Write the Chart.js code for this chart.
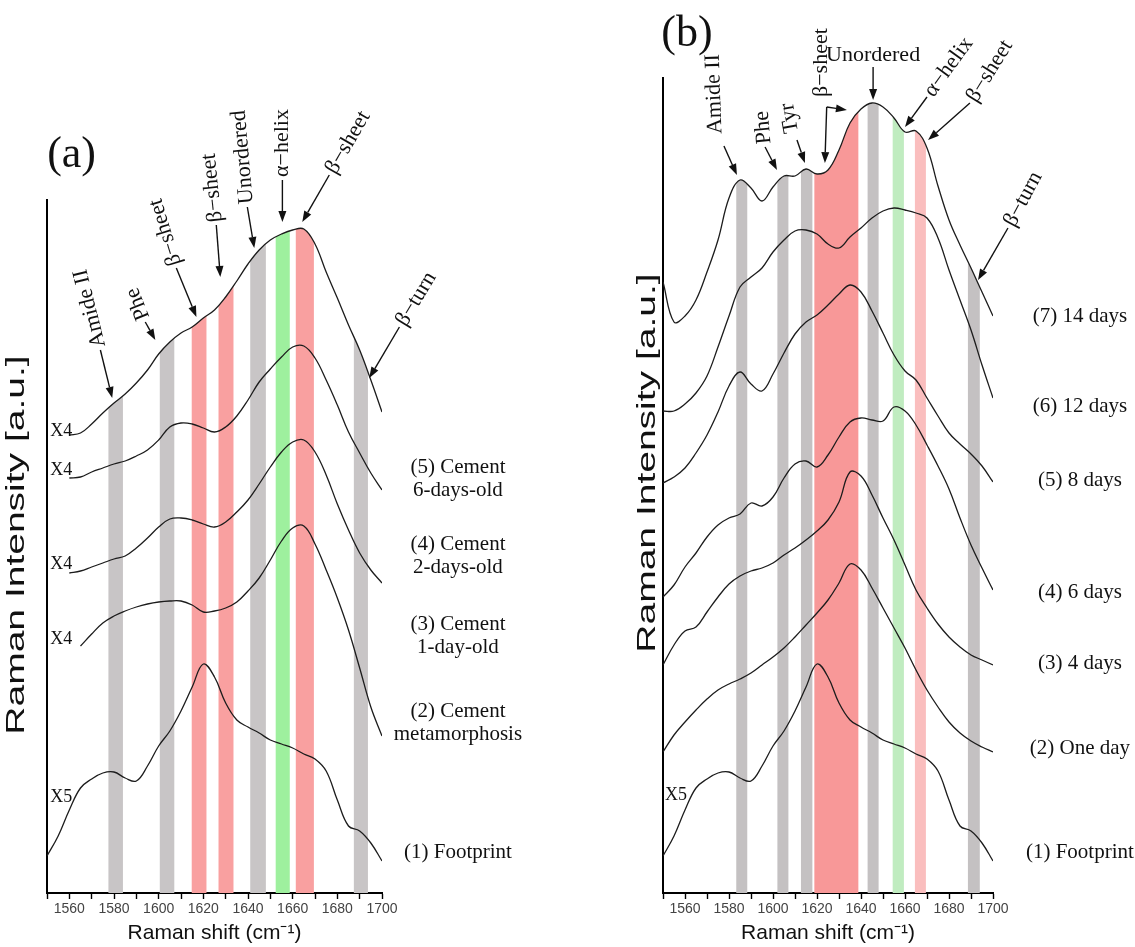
<!DOCTYPE html>
<html>
<head>
<meta charset="utf-8">
<title>Raman spectra of cement and footprint</title>
<script src="https://cdn.jsdelivr.net/npm/chart.js@4.4.1/dist/chart.umd.min.js"></script>
<style>
  html, body { margin: 0; padding: 0; background: #fff; }
  .panel { position: absolute; top: 0; }
  #panelA { left: 0; }
  #panelB { left: 600px; }
</style>
</head>
<body>
<canvas id="panelA" class="panel" width="600" height="947"></canvas>
<canvas id="panelB" class="panel" width="535" height="947"></canvas>
<script>
// Raman shift grid (cm-1)
const shift = [1550, 1555, 1560, 1565, 1570, 1575, 1580, 1585, 1590, 1595, 1600, 1605, 1610, 1615, 1620, 1625,
  1630, 1635, 1640, 1645, 1650, 1655, 1660, 1665, 1670, 1675, 1680, 1685, 1690, 1695, 1700];

// intensities (a.u., stacked offsets as drawn)
const footprint = [37, 57, 83, 105, 114, 120, 121, 115, 112, 127, 147, 162, 182, 206, 229, 216,
  190, 173, 166, 160, 153, 149, 145, 139, 134, 122, 93, 67, 62, 50, 32];

// panel (a)
const cementMetamorphosis = [null, null, null, 247, 259, 270, 277, 282, 286, 289, 291, 292, 292, 288, 281, 282,
  285, 291, 302, 315, 333, 352, 365, 367, 349, 323, 295, 263, 225, 186, 157];
const cement1Day = [null, null, 320, 322, 326, 330, 334, 337, 345, 355, 366, 374, 375, 373, 369, 366,
  371, 381, 393, 409, 426, 441, 451, 453, 441, 418, 389, 363, 340, 323, 310];
const cement2Days = [null, null, 415, 416, 421, 425, 429, 432, 437, 443, 453, 466, 470, 469, 465, 461,
  466, 477, 493, 511, 524, 536, 546, 547, 535, 513, 488, 461, 440, 420, 403];
const cement6Days = [null, null, 458, 460, 469, 480, 490, 499, 510, 523, 539, 551, 560, 566, 575, 583,
  596, 612, 629, 643, 653, 659, 663, 664, 649, 621, 595, 568, 543, 513, 481];

// panel (b)
const oneDay = [141, 158, 171, 183, 194, 203, 209, 214, 220, 228, 236, 245, 256, 268, 280, 293,
  310, 329, 323, 305, 285, 265, 245, 223, 203, 186, 171, 160, 152, 146, 141];
const days4 = [228, 248, 262, 266, 281, 296, 309, 317, 322, 325, 330, 338, 345, 353, 362, 373,
  391, 421, 417, 398, 375, 353, 328, 303, 285, 269, 256, 246, 238, 233, 228];
const days6 = [296, 308, 326, 340, 356, 368, 375, 379, 390, 387, 396, 415, 429, 432, 426, 438,
  456, 471, 475, 473, 472, 486, 482, 468, 448, 427, 404, 375, 348, 325, 303];
const days8 = [410, 416, 425, 440, 458, 481, 507, 521, 509, 502, 519, 540, 559, 571, 578, 588,
  599, 608, 601, 582, 560, 538, 522, 513, 495, 477, 460, 449, 439, 427, 411];
const days12 = [482, 482, 489, 500, 517, 546, 577, 606, 616, 625, 641, 653, 662, 663, 659, 649,
  645, 656, 665, 675, 682, 685, 683, 680, 675, 655, 623, 593, 563, 528, 495];
const days14 = [611, 571, 577, 593, 621, 653, 695, 713, 705, 692, 706, 717, 717, 724, 719, 723,
  743, 770, 784, 790, 786, 775, 761, 762, 745, 707, 673, 648, 625, 601, 577];

// band assignments (cm-1)
const bandRangesA = [[1577.5, 1584], [1600.5, 1607], [1614.8, 1621.4], [1626.8, 1633.5], [1641, 1648],
  [1652.4, 1658.7], [1661.4, 1669.5], [1687.4, 1693.7]];
const bandKindsA = ['other', 'other', 'sheet', 'sheet', 'other', 'helix', 'sheet', 'other'];
const bandRangesB = [[1583.3, 1588.3], [1602, 1607], [1612.7, 1617.9], [1618.8, 1638.8], [1643, 1648],
  [1654.4, 1659.5], [1664.5, 1669.5], [1688.6, 1694]];
const bandKindsB = ['other', 'other', 'other', 'sheet', 'other', 'helix', 'sheetLight', 'other'];

const SERIF = "'Liberation Serif', 'Times New Roman', serif";
const SANS = "'Liberation Sans', Arial, sans-serif";

const bandColorsA = { other: 'rgb(200,197,198)', sheet: 'rgb(249,160,160)', helix: 'rgb(158,240,158)' };
const bandColorsB = { other: 'rgb(196,193,194)', sheet: 'rgb(248,152,152)', sheetLight: 'rgb(250,190,190)', helix: 'rgb(192,236,192)' };

const toPoints = (values) => shift.map((s, i) => ({ x: s, y: values[i] })).filter((p) => p.y !== null);

const spectrum = (label, values) => ({
  label,
  data: toPoints(values),
  borderColor: '#1c1c1c',
  borderWidth: 1.3,
  pointRadius: 0,
  tension: 0.4,
  fill: false,
});

const drawArrow = (ctx, x0, y0, x1, y1) => {
  const ang = Math.atan2(y1 - y0, x1 - x0);
  const len = 11;
  const half = 4;
  const bx = x1 - len * Math.cos(ang);
  const by = y1 - len * Math.sin(ang);
  ctx.beginPath();
  ctx.moveTo(x0, y0);
  ctx.lineTo(bx, by);
  ctx.stroke();
  ctx.beginPath();
  ctx.moveTo(x1, y1);
  ctx.lineTo(bx + half * Math.sin(ang), by - half * Math.cos(ang));
  ctx.lineTo(bx - half * Math.sin(ang), by + half * Math.cos(ang));
  ctx.closePath();
  ctx.fill();
};

// coloured bands, clipped under the top spectrum
const bandsPlugin = (cfg) => ({
  id: 'bands',
  beforeDatasetsDraw(chart) {
    const { ctx, chartArea, scales: { x } } = chart;
    const meta = chart.getDatasetMeta(cfg.envelope);
    const pts = meta.data;
    if (!pts.length) return;
    ctx.save();
    ctx.beginPath();
    const line = meta.dataset;
    if (line && typeof line.path === 'function') {
      if (typeof line.updateControlPoints === 'function') line.updateControlPoints(chartArea, 'x');
      line.path(ctx);
    } else {
      pts.forEach((p, i) => (i ? ctx.lineTo(p.x, p.y) : ctx.moveTo(p.x, p.y)));
    }
    ctx.lineTo(pts[pts.length - 1].x, chartArea.bottom);
    ctx.lineTo(pts[0].x, chartArea.bottom);
    ctx.closePath();
    ctx.clip();
    cfg.ranges.forEach(([from, to], i) => {
      const x0 = x.getPixelForValue(from);
      const x1 = x.getPixelForValue(to);
      ctx.fillStyle = cfg.colors[cfg.kinds[i]];
      ctx.fillRect(x0, 0, x1 - x0, chartArea.bottom);
    });
    ctx.restore();
  },
});

// arrows, band names, curve labels, y title
const notesPlugin = (cfg) => ({
  id: 'notes',
  afterDatasetsDraw(chart) {
    const { ctx, scales: { x, y } } = chart;
    const px = (p) => [x.getPixelForValue(p[0]), y.getPixelForValue(p[1])];
    ctx.save();
    ctx.fillStyle = '#111';
    ctx.strokeStyle = '#111';
    ctx.lineWidth = 1.4;

    cfg.arrows.forEach((n) => {
      const [tx, ty] = px(n.tail);
      n.heads.forEach((h) => {
        const [hx, hy] = px(h);
        drawArrow(ctx, tx, ty, hx, hy);
      });
      const [lx, ly] = px(n.at || n.tail);
      ctx.save();
      ctx.translate(lx, ly);
      ctx.rotate(((n.angle || 0) * Math.PI) / 180);
      ctx.font = `22px ${SERIF}`;
      ctx.textAlign = n.angle ? 'left' : 'center';
      ctx.textBaseline = 'middle';
      ctx.fillText(n.label, n.angle ? 3 : 0, 0);
      ctx.restore();
    });

    cfg.labels.forEach((l) => {
      const [lx, ly] = px(l.at);
      const lines = [].concat(l.text);
      ctx.font = `${l.size || 21}px ${SERIF}`;
      ctx.textAlign = 'center';
      ctx.textBaseline = 'middle';
      lines.forEach((t, i) => ctx.fillText(t, lx, ly + (i - (lines.length - 1) / 2) * 23));
    });

    const [yx, yy] = px(cfg.yTitle.at);
    ctx.save();
    ctx.translate(yx, yy);
    ctx.rotate(-Math.PI / 2);
    ctx.scale(cfg.yTitle.stretch, 1);
    ctx.font = `26px ${SANS}`;
    ctx.textAlign = 'center';
    ctx.textBaseline = 'middle';
    ctx.fillText(cfg.yTitle.text, 0, 0);
    ctx.restore();
    ctx.restore();
  },
});

const buildOptions = (yMax, pad) => ({
  responsive: false,
  animation: false,
  events: [],
  layout: { padding: pad },
  plugins: { legend: { display: false }, tooltip: { enabled: false } },
  scales: {
    x: {
      type: 'linear',
      min: 1550,
      max: 1700,
      afterFit: (s) => { s.height = 54; },
      border: { display: true, color: '#000', width: 2 },
      grid: { display: true, drawOnChartArea: false, drawTicks: true, tickLength: 6, tickColor: '#000', tickWidth: 1.4 },
      ticks: {
        stepSize: 10,
        autoSkip: false,
        maxRotation: 0,
        padding: 2,
        color: '#444',
        font: { family: SANS, size: 14 },
        callback: (v) => (v % 20 === 0 ? String(v) : ''),
      },
      title: {
        display: true,
        text: 'Raman shift (cm⁻¹)',
        color: '#111',
        font: { family: SANS, size: 21 },
        padding: { top: 0, bottom: 1 },
      },
    },
    y: {
      min: 0,
      max: yMax,
      border: { display: true, color: '#000', width: 2 },
      grid: { display: false, drawTicks: false },
      ticks: { display: false },
    },
  },
});

const notesA = {
  arrows: [
    { label: 'Amide II', tail: [1573.9, 543], heads: [[1579.2, 495]], angle: -104 },
    { label: 'Phe', tail: [1594.0, 571], heads: [[1598.5, 553]], angle: -112 },
    { label: 'β−sheet', tail: [1607.9, 625], heads: [[1616.9, 576]], angle: -107 },
    { label: 'β−sheet', tail: [1625.8, 668], heads: [[1627.6, 616]], angle: -96 },
    { label: 'Unordered', tail: [1639.7, 686], heads: [[1642.8, 645]], angle: -95 },
    { label: 'α−helix', tail: [1655.4, 713], heads: [[1655.4, 671]], angle: -90 },
    { label: 'β−sheet', tail: [1676.4, 718], heads: [[1664.3, 671]], angle: -60 },
    { label: 'β−turn', tail: [1707.8, 566], heads: [[1694.3, 515]], angle: -59 },
  ],
  labels: [
    { text: '(a)', at: [1561, 738], size: 44 },
    { text: 'X4', at: [1556.4, 462], size: 18 },
    { text: 'X4', at: [1556.4, 423], size: 18 },
    { text: 'X4', at: [1556.4, 329], size: 18 },
    { text: 'X4', at: [1556.4, 254], size: 18 },
    { text: 'X5', at: [1556.4, 96], size: 18 },
    { text: ['(5) Cement', '6-days-old'], at: [1734, 414] },
    { text: ['(4) Cement', '2-days-old'], at: [1734, 337] },
    { text: ['(3) Cement', '1-day-old'], at: [1734, 257] },
    { text: ['(2) Cement', 'metamorphosis'], at: [1734, 170] },
    { text: '(1) Footprint', at: [1734, 41] },
  ],
  yTitle: { text: 'Raman Intensity [a.u.]', at: [1536.7, 348], stretch: 1.5 },
};

const notesB = {
  arrows: [
    { label: 'Amide II', tail: [1577.7, 747], heads: [[1583.6, 718]], angle: -92, at: [1574, 756] },
    { label: 'Phe', tail: [1596.4, 746], heads: [[1601.8, 723]], angle: -95 },
    { label: 'Tyr', tail: [1610.9, 753], heads: [[1614.5, 730]], angle: -100, at: [1609, 757] },
    { label: 'β−sheet', tail: [1624.4, 786], heads: [[1623.6, 730], [1633.6, 783]], angle: -90, at: [1621.8, 793] },
    { label: 'Unordered', tail: [1645.5, 826], heads: [[1645.5, 793]], at: [1645.5, 838] },
    { label: 'α−helix', tail: [1670, 796], heads: [[1660, 766]], angle: -54 },
    { label: 'β−sheet', tail: [1689.5, 790], heads: [[1670.5, 753]], angle: -58 },
    { label: 'β−turn', tail: [1706.8, 665], heads: [[1693.2, 613]], angle: -62 },
  ],
  labels: [
    { text: '(b)', at: [1560.9, 859], size: 44 },
    { text: 'X5', at: [1555.9, 98], size: 18 },
    { text: '(7) 14 days', at: [1739.5, 577] },
    { text: '(6) 12 days', at: [1739.5, 487] },
    { text: '(5) 8 days', at: [1739.5, 413] },
    { text: '(4) 6 days', at: [1739.5, 301] },
    { text: '(3) 4 days', at: [1739.5, 230] },
    { text: '(2) One day', at: [1739.5, 145] },
    { text: '(1) Footprint', at: [1739.5, 41] },
  ],
  yTitle: { text: 'Raman Intensity [a.u.]', at: [1543.2, 430], stretch: 1.5 },
};

new Chart(document.getElementById('panelA'), {
  type: 'line',
  data: {
    datasets: [
      spectrum('(1) Footprint', footprint),
      spectrum('(2) Cement metamorphosis', cementMetamorphosis),
      spectrum('(3) Cement 1-day-old', cement1Day),
      spectrum('(4) Cement 2-days-old', cement2Days),
      spectrum('(5) Cement 6-days-old', cement6Days),
    ],
  },
  options: buildOptions(693, { left: 47, right: 218, top: 200, bottom: 0 }),
  plugins: [
    bandsPlugin({ envelope: 4, ranges: bandRangesA, kinds: bandKindsA, colors: bandColorsA }),
    notesPlugin(notesA),
  ],
});

new Chart(document.getElementById('panelB'), {
  type: 'line',
  data: {
    datasets: [
      spectrum('(1) Footprint', footprint),
      spectrum('(2) One day', oneDay),
      spectrum('(3) 4 days', days4),
      spectrum('(4) 6 days', days6),
      spectrum('(5) 8 days', days8),
      spectrum('(6) 12 days', days12),
      spectrum('(7) 14 days', days14),
    ],
  },
  options: buildOptions(815, { left: 63, right: 142, top: 78, bottom: 0 }),
  plugins: [
    bandsPlugin({ envelope: 6, ranges: bandRangesB, kinds: bandKindsB, colors: bandColorsB }),
    notesPlugin(notesB),
  ],
});
</script>
</body>
</html>
